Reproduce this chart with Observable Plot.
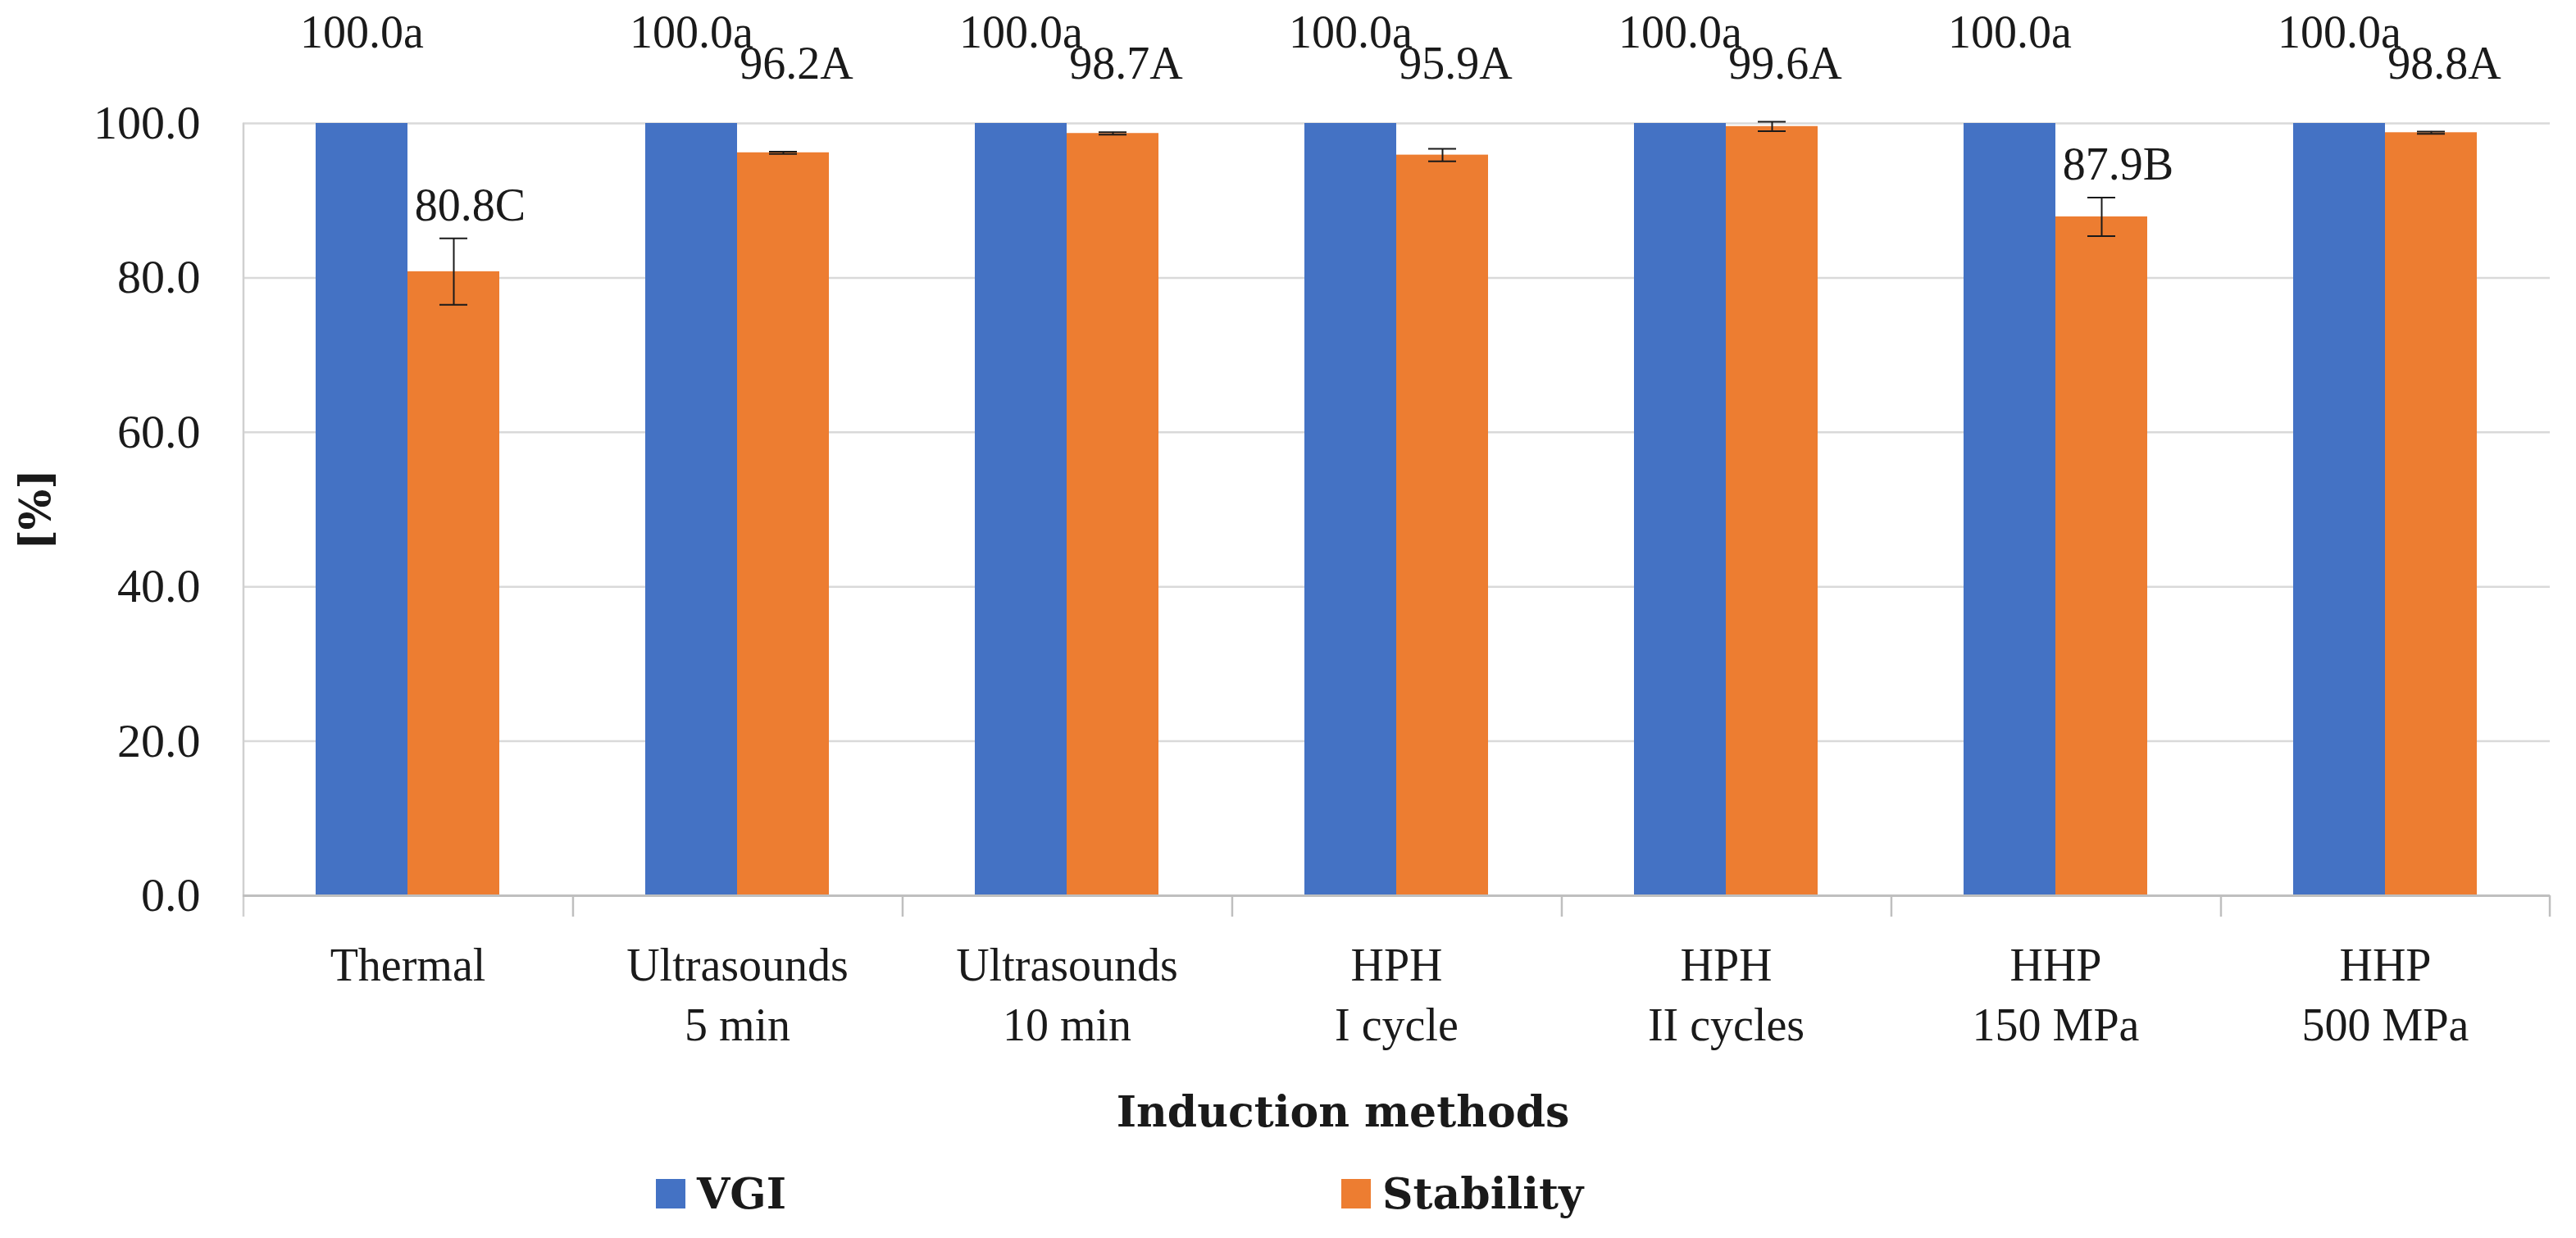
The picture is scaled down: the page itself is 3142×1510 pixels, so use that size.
<!DOCTYPE html>
<html>
<head>
<meta charset="utf-8">
<script src="https://cdn.jsdelivr.net/npm/d3@7"></script>
<script src="https://cdn.jsdelivr.net/npm/@observablehq/plot@0.6"></script>
<style>
  html, body { margin: 0; padding: 0; background: #fff; }
  #wrap { position: relative; width: 3142px; height: 1510px; overflow: hidden; }
  svg g[aria-label="y-axis label"] text { font-weight: bold; font-family: "DejaVu Serif", serif; font-size: 52px; }
  #xlabel { position: absolute; top: 1324px; left: 1638px; transform: translateX(-50%); white-space: nowrap;
            font-family: "DejaVu Serif", serif; font-weight: bold; font-size: 52px; line-height: 64px; color: #1a1a1a; }
  #legend { position: absolute; top: 1424px; left: 800px; display: flex; align-items: center;
            font-family: "DejaVu Serif", serif; font-weight: bold; font-size: 52px; line-height: 64px; color: #1a1a1a; }
  #legend .item { display: flex; align-items: center; min-width: 836px; }
  #legend .sw { width: 36px; height: 36px; margin-right: 14px; display: inline-block; }
</style>
</head>
<body>
<div id="wrap">
  <div id="chart"></div>
  <div id="xlabel"></div>
  <div id="legend"></div>
</div>
<script>
const categories = ["Thermal", "Ultrasounds\n5 min", "Ultrasounds\n10 min", "HPH\nI cycle", "HPH\nII cycles", "HHP\n150 MPa", "HHP\n500 MPa"];
const series = ["VGI", "Stability"];
const vgi = [100.0, 100.0, 100.0, 100.0, 100.0, 100.0, 100.0];
const vgiLetters = ["a", "a", "a", "a", "a", "a", "a"];
const stability = [80.8, 96.2, 98.7, 95.9, 99.6, 87.9, 98.8];
const stabilitySd = [4.3, 0.15, 0.15, 0.8, 0.6, 2.5, 0.15];
const stabilityLetters = ["C", "A", "A", "A", "A", "B", "A"];
const yTicks = [0, 20, 40, 60, 80, 100];
const colors = ["#4472C4", "#ED7D31"];
const xTitle = "Induction methods";
const yTitle = "[%]";

const rows = categories.flatMap((c, i) => [
  {category: c, series: series[0], value: vgi[i], sd: 0, letter: vgiLetters[i]},
  {category: c, series: series[1], value: stability[i], sd: stabilitySd[i], letter: stabilityLetters[i]}
]);
const vgiRows = rows.filter(d => d.series === series[0]);
const stabRows = rows.filter(d => d.series === series[1]);

const W = 3142, H = 1300, ML = 296, MR = 32, MT = 150, MB = 208;
const padOuter = 0.78;
const fxStep = (W - ML - MR) / categories.length;
const xStep = fxStep / (series.length + 2 * padOuter);
const edgeDx = padOuter * xStep + xStep / 2;
const ink = "#1a1a1a";
const label = d => d.value.toFixed(1) + d.letter;

const chart = Plot.plot({
  width: W, height: H,
  marginLeft: ML, marginRight: MR, marginTop: MT, marginBottom: MB,
  style: {fontFamily: "'Liberation Serif', serif", fontSize: "56px", background: "#fff", color: ink, overflow: "visible"},
  fx: {domain: categories, padding: 0},
  x: {domain: series, paddingInner: 0, paddingOuter: padOuter, axis: null},
  y: {domain: [0, 100]},
  color: {domain: series, range: colors},
  marks: [
    Plot.ruleY(yTicks.slice(1), {y: d => d, stroke: "#d9d9d9", strokeWidth: 2.5}),
    Plot.ruleX(categories.slice(0, 1), {fx: d => d, x: () => series[0], dx: -edgeDx, y1: () => 100, y2: () => 0, insetBottom: -26, stroke: "#d0d0d0", strokeWidth: 2.5}),
    Plot.ruleX(categories.slice(1), {fx: d => d, x: () => series[0], dx: -edgeDx, y1: () => 0, y2: () => 0, insetBottom: -26, stroke: "#bfbfbf", strokeWidth: 2.5}),
    Plot.ruleX(categories.slice(-1), {fx: d => d, x: () => series[1], dx: edgeDx, y1: () => 0, y2: () => 0, insetBottom: -26, stroke: "#bfbfbf", strokeWidth: 2.5}),
    Plot.barY(rows, {fx: "category", x: "series", y: "value", fill: "series"}),
    Plot.ruleY([0], {stroke: "#bfbfbf", strokeWidth: 3}),
    Plot.ruleX(stabRows, {fx: "category", x: "series", y1: d => d.value - d.sd, y2: d => d.value + d.sd, stroke: ink, strokeWidth: 2}),
    Plot.tickY(stabRows, {fx: "category", x: "series", y: d => d.value + d.sd, insetLeft: 39, insetRight: 39, stroke: ink, strokeWidth: 2}),
    Plot.tickY(stabRows, {fx: "category", x: "series", y: d => d.value - d.sd, insetLeft: 39, insetRight: 39, stroke: ink, strokeWidth: 2}),
    Plot.text(vgiRows, {fx: "category", x: "series", y: "value", text: label, dy: -110, fill: ink}),
    Plot.text(stabRows, {filter: d => d.value + d.sd < 92, fx: "category", x: "series", y: d => d.value + d.sd, text: label, dx: 20, dy: -40, fill: ink}),
    Plot.text(stabRows, {filter: d => d.value + d.sd >= 92, fx: "category", x: "series", y: () => 100, text: label, dx: 16, dy: -72, fill: ink}),
    Plot.axisY({ticks: yTicks, tickFormat: d => d.toFixed(1), tickSize: 0, tickPadding: 52, fontSize: 58, label: yTitle, labelAnchor: "center", labelOffset: 272, labelArrow: "none", fill: ink}),
    Plot.axisFx({anchor: "bottom", tickSize: 0, tickPadding: 52, lineHeight: 1.3, label: null, fill: ink})
  ]
});
document.getElementById("chart").appendChild(chart);

document.getElementById("xlabel").textContent = xTitle;

const legend = document.getElementById("legend");
series.forEach((s, i) => {
  const item = document.createElement("span");
  item.className = "item";
  const sw = document.createElement("span");
  sw.className = "sw";
  sw.style.background = colors[i];
  item.appendChild(sw);
  item.appendChild(document.createTextNode(s));
  legend.appendChild(item);
});
</script>
</body>
</html>
